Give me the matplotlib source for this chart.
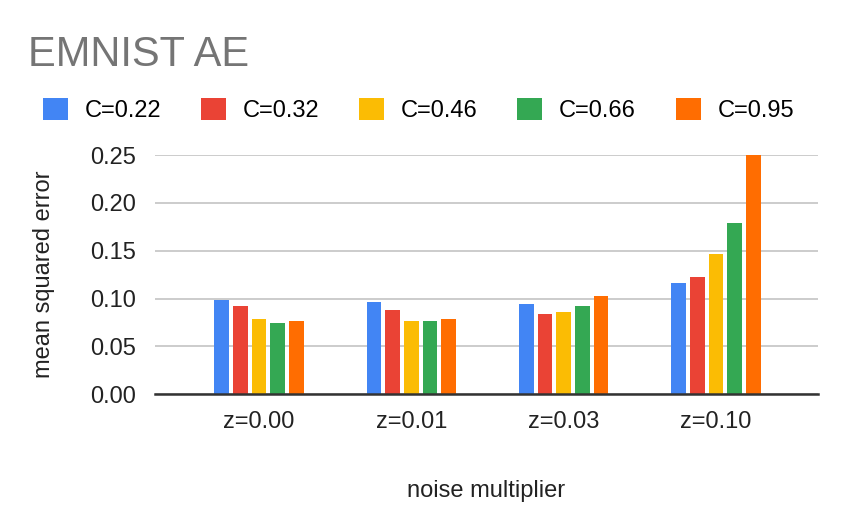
import numpy as np
import matplotlib.pyplot as plt

plt.rcParams['font.family'] = ['Liberation Sans', 'DejaVu Sans']

# noise multiplier groups and clipping norms
groups = ['z=0.00', 'z=0.01', 'z=0.03', 'z=0.10']
clip_labels = ['C=0.22', 'C=0.32', 'C=0.46', 'C=0.66', 'C=0.95']
colors = ['#4285F4', '#EA4335', '#FBBC04', '#34A853', '#FF6D01']

# mean squared error, one list per C value (across z groups)
mse_c022 = [0.0985, 0.0965, 0.0944, 0.1163]
mse_c032 = [0.0926, 0.0880, 0.0839, 0.1230]
mse_c046 = [0.0790, 0.0767, 0.0857, 0.1466]
mse_c066 = [0.0745, 0.0770, 0.0923, 0.1793]
mse_c095 = [0.0770, 0.0790, 0.1030, 0.2700]
series = [mse_c022, mse_c032, mse_c046, mse_c066, mse_c095]

fig = plt.figure(figsize=(8.44, 5.30), dpi=100)
ax = fig.add_axes([0.1837, 0.256, 0.7855, 0.4515])

x = np.arange(len(groups))
pitch = 0.123
width = 0.0965
for i, (vals, lab, col) in enumerate(zip(series, clip_labels, colors)):
    ax.bar(x + (i - 2) * pitch, vals, width, color=col, label=lab, zorder=3)

ax.set_xlim(-0.683, 3.67)
ax.set_ylim(0, 0.25)
ax.set_yticks([0, 0.05, 0.10, 0.15, 0.20, 0.25])
ax.set_yticklabels(['0.00', '0.05', '0.10', '0.15', '0.20', '0.25'])
ax.set_xticks(x)
ax.set_xticklabels(groups)
ax.tick_params(axis='both', length=0, labelsize=17, colors='#222222')
ax.tick_params(axis='y', pad=14)
ax.tick_params(axis='x', pad=12)
ax.yaxis.grid(True, color='#cccccc', linewidth=1.4, zorder=0)
for s in ['top', 'right', 'left']:
    ax.spines[s].set_visible(False)
ax.spines['bottom'].set_color('#333333')
ax.spines['bottom'].set_linewidth(1.8)
ax.spines['bottom'].set_zorder(4)

ax.set_xlabel('noise multiplier', fontsize=17, color='#222222', labelpad=34)
ax.set_ylabel('mean squared error', fontsize=17, color='#222222', labelpad=25)

fig.text(0.033, 0.896, 'EMNIST AE', fontsize=30, color='#757575', va='center', ha='left')

fig.legend(loc='center left', bbox_to_anchor=(0.051, 0.792), ncol=5, frameon=False,
           fontsize=17, handlelength=1.05, handleheight=1.05, handletextpad=0.72,
           columnspacing=1.68, borderaxespad=0, borderpad=0)

fig.savefig('out.png', dpi=100)
